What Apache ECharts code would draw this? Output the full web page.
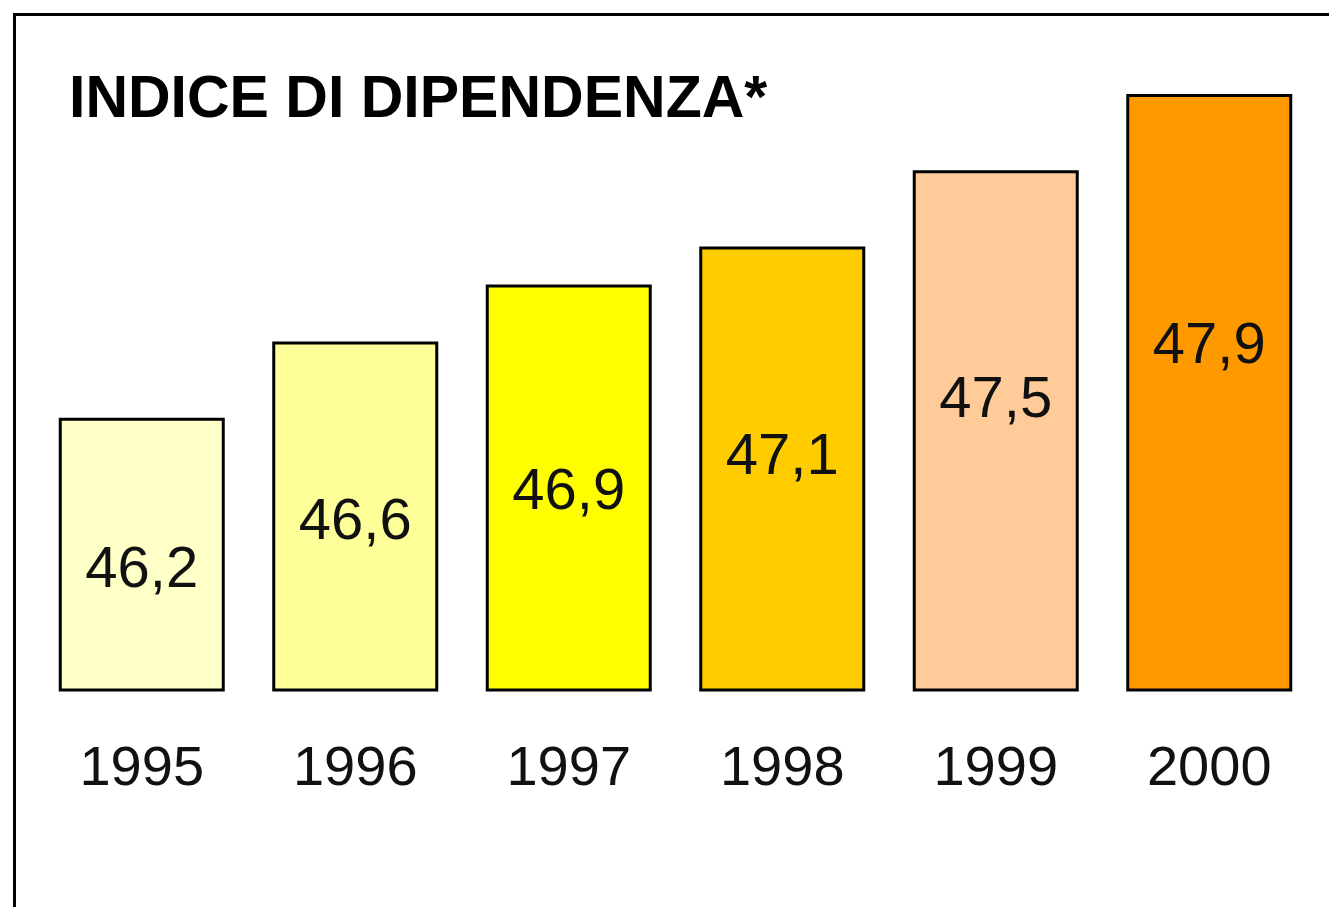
<!DOCTYPE html>
<html>
<head>
<meta charset="UTF-8">
<title>Indice di dipendenza</title>
<script src="https://cdn.jsdelivr.net/npm/echarts@6/dist/echarts.min.js"></script>
<style>
  body { margin: 0; background: #fff; }
  #frame { position: absolute; left: 13px; top: 13px; right: 0; bottom: 0; border-top: 3px solid #000; border-left: 3px solid #000; }
  #main { position: absolute; left: 0; top: 0; width: 1329px; height: 907px; }
</style>
</head>
<body>
<div id="frame"></div>
<div id="main"></div>
<script>
var anni = ['1995', '1996', '1997', '1998', '1999', '2000'];
var valori = [46.2, 46.6, 46.9, 47.1, 47.5, 47.9];
var colori = ['#FFFFC8', '#FFFF99', '#FFFF00', '#FFCC00', '#FFCC99', '#FF9900'];
// spostamento verticale delle etichette dentro le barre
var spostamenti = [16, 6, 5, -11, -30, -46];

var font = '"Liberation Sans", Arial, sans-serif';
var chart = echarts.init(document.getElementById('main'));

chart.setOption({
    animation: false,
    title: {
        text: 'INDICE DI DIPENDENZA*',
        left: 64,
        top: 66,
        textStyle: { fontFamily: font, fontSize: 59, fontWeight: 'bold', color: '#000' }
    },
    grid: { left: 35, right: 13, top: 56, bottom: 217 },
    xAxis: {
        type: 'category',
        data: anni,
        axisLine: { show: false },
        axisTick: { show: false },
        axisLabel: { fontFamily: font, fontSize: 56, color: '#111', margin: 52 }
    },
    yAxis: {
        type: 'value',
        min: 44.77,
        max: 48.1,
        show: false
    },
    series: [{
        type: 'bar',
        barWidth: 166,
        data: valori.map(function (v, i) {
            return {
                value: v,
                itemStyle: { color: colori[i] },
                label: { offset: [0, spostamenti[i]] }
            };
        }),
        itemStyle: { borderColor: '#000', borderWidth: 3 },
        label: {
            show: true,
            position: 'inside',
            fontFamily: font,
            fontSize: 58,
            color: '#111',
            formatter: function (p) { return String(p.value).replace('.', ','); }
        }
    }]
});
</script>
</body>
</html>
